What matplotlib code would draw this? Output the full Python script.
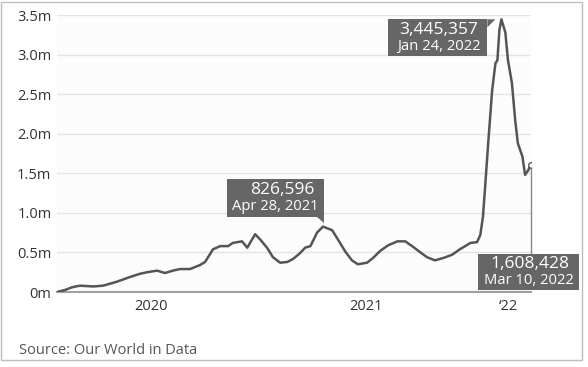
import matplotlib.pyplot as plt
import matplotlib.dates as mdates
from matplotlib.patches import Polygon, Rectangle
from matplotlib.transforms import IdentityTransform
from matplotlib.ticker import FuncFormatter
import numpy as np
import datetime as dt

plt.rcParams['font.family'] = ['Open Sans', 'DejaVu Sans']

# 7-day average of new cases worldwide (millions)
dates = ["2020-03-20", "2020-04-01", "2020-04-12", "2020-04-24", "2020-05-14", "2020-05-29",
         "2020-06-19", "2020-07-09", "2020-07-24", "2020-08-04", "2020-08-19", "2020-08-31",
         "2020-09-12", "2020-09-23", "2020-10-08", "2020-10-23", "2020-10-31", "2020-11-12",
         "2020-11-23", "2020-12-05", "2020-12-12", "2020-12-26", "2021-01-03", "2021-01-10",
         "2021-01-15", "2021-01-23", "2021-02-02", "2021-02-11", "2021-02-22", "2021-03-05",
         "2021-03-14", "2021-03-24", "2021-04-01", "2021-04-09", "2021-04-19", "2021-04-28",
         "2021-05-12", "2021-05-21", "2021-06-01", "2021-06-11", "2021-06-20", "2021-07-04",
         "2021-07-13", "2021-07-24", "2021-08-05", "2021-08-19", "2021-08-31", "2021-09-12",
         "2021-09-23", "2021-10-03", "2021-10-15", "2021-10-28", "2021-11-10", "2021-11-22",
         "2021-11-30", "2021-12-08", "2021-12-18", "2021-12-23", "2021-12-27", "2021-12-30",
         "2022-01-04", "2022-01-10", "2022-01-15", "2022-01-18", "2022-01-21", "2022-01-24",
         "2022-01-30", "2022-02-03", "2022-02-09", "2022-02-14", "2022-02-18", "2022-02-25",
         "2022-03-01", "2022-03-06", "2022-03-09", "2022-03-10"]
cases = [0.0, 0.025, 0.06, 0.08, 0.07, 0.08,
         0.13, 0.19, 0.23, 0.25, 0.27, 0.24,
         0.27, 0.29, 0.29, 0.34, 0.38, 0.54,
         0.58, 0.58, 0.62, 0.64, 0.56, 0.66,
         0.73, 0.66, 0.56, 0.44, 0.37, 0.38,
         0.42, 0.49, 0.56, 0.58, 0.75, 0.826596,
         0.78, 0.66, 0.51, 0.40, 0.35, 0.37,
         0.43, 0.52, 0.59, 0.64, 0.64, 0.57,
         0.50, 0.44, 0.40, 0.43, 0.47, 0.54,
         0.58, 0.62, 0.63, 0.72, 0.95, 1.29,
         1.88, 2.55, 2.89, 2.93, 3.31, 3.445357,
         3.28, 2.93, 2.64, 2.17, 1.88, 1.71,
         1.48, 1.54, 1.60, 1.608428]

callouts = [("2021-04-28", "826,596", "Apr 28, 2021"),
            ("2022-01-24", "3,445,357", "Jan 24, 2022"),
            ("2022-03-10", "1,608,428", "Mar 10, 2022")]

x = [dt.datetime.strptime(d, "%Y-%m-%d") for d in dates]
y = np.array(cases) * 1e6

W, H = 588, 367
fig = plt.figure(figsize=(W / 100, H / 100), dpi=100)
ax = fig.add_axes([57 / W, 1 - 292 / H, (531 - 57) / W, (292 - 15) / H])
ax.set_facecolor("#fcfcfc")

ax.plot(x, y, color="#555555", lw=1.8, solid_joinstyle="round", zorder=3)
ax.plot(x[-1], y[-1], marker="o", ms=4, mfc="white", mec="#555555", mew=1, zorder=4)

ax.set_xlim(x[0], x[-1])
ax.set_ylim(0, 3.5e6)
ax.set_yticks(np.arange(0, 3.51e6, 0.5e6))
ax.yaxis.set_major_formatter(FuncFormatter(lambda v, p: "0m" if v == 0 else f"{v / 1e6:.1f}m"))
ax.grid(axis="y", color="#e4e4e4", lw=1)
ax.set_axisbelow(True)

# year labels centred on the visible part of each year
ticks, labels = [], []
for yr, lab in [(2020, "2020"), (2021, "2021"), (2022, "\u201822")]:
    a = max(x[0], dt.datetime(yr, 1, 1))
    b = min(x[-1], dt.datetime(yr + 1, 1, 1))
    ticks.append(mdates.date2num(a) + (mdates.date2num(b) - mdates.date2num(a)) / 2)
    labels.append(lab)
ax.set_xticks(ticks)
ax.set_xticklabels(labels)
ax.tick_params(axis="both", length=0, labelsize=10.5, labelcolor="#333333")
ax.tick_params(axis="x", pad=5)
ax.tick_params(axis="y", pad=4)

for s in ["top", "right", "left"]:
    ax.spines[s].set_visible(False)
ax.spines["bottom"].set_color("#a0a0a0")
ax.spines["bottom"].set_linewidth(1.5)

fig.canvas.draw()


def to_px(d, v):
    # display coords (origin bottom left) of a data point
    return ax.transData.transform((mdates.date2num(dt.datetime.strptime(d, "%Y-%m-%d")), v))


def box(px, py, left, right, top, bottom, tri, num, date, num_dx, date_dx):
    pts = [(px + left, py + top), (px + right, py + top), (px + right, py + bottom), (px + left, py + bottom)]
    fig.add_artist(Polygon(pts, closed=True, transform=IdentityTransform(), fc="#666666", ec="none", zorder=5))
    if tri:
        fig.add_artist(Polygon([(px + a, py + b) for a, b in tri], closed=True, transform=IdentityTransform(),
                               fc="#666666", ec="none", zorder=5))
    cy = py + (top + bottom) / 2
    fig.text((px + num_dx) / W, (cy + 8) / H, num, color="white", fontsize=12.5,
             ha="center", va="center", zorder=6)
    fig.text((px + date_dx) / W, (cy - 8.5) / H, date, color="white", fontsize=10.6,
             ha="center", va="center", zorder=6)


vals = dict(zip(dates, cases))

d, n, t = callouts[0]
px, py = to_px(d, vals[d] * 1e6)
box(px, py, -96, 1, 48, 10, [(-6, 10), (1, 10), (1, 4)], n, t, -41, -48)

d, n, t = callouts[1]
px, py = to_px(d, vals[d] * 1e6)
box(px, py, -113, -14, 0, -37, [(-14, 0), (-6, 0), (-14, -8)], n, t, -63, -62)

d, n, t = callouts[2]
px, py = to_px(d, vals[d] * 1e6)
top = py - (253 - 164)
ax.plot([x[-1], x[-1]], [y[-1], ax.transData.inverted().transform((px, top))[1]],
        color="#888888", lw=1, zorder=2, clip_on=False)
box(px, py, -53, 48, -89, -125, [], n, t, -1, -2)

fig.text(19 / W, 1 - 350 / H, "Source: Our World in Data", fontsize=10.5, color="#555555",
         ha="left", va="center")
fig.add_artist(Rectangle((1.5 / W, 7 / H), 580 / W, 358.5 / H, transform=fig.transFigure,
                         fc="none", ec="#bdbdbd", lw=1))

fig.savefig("out.png", dpi=100)
